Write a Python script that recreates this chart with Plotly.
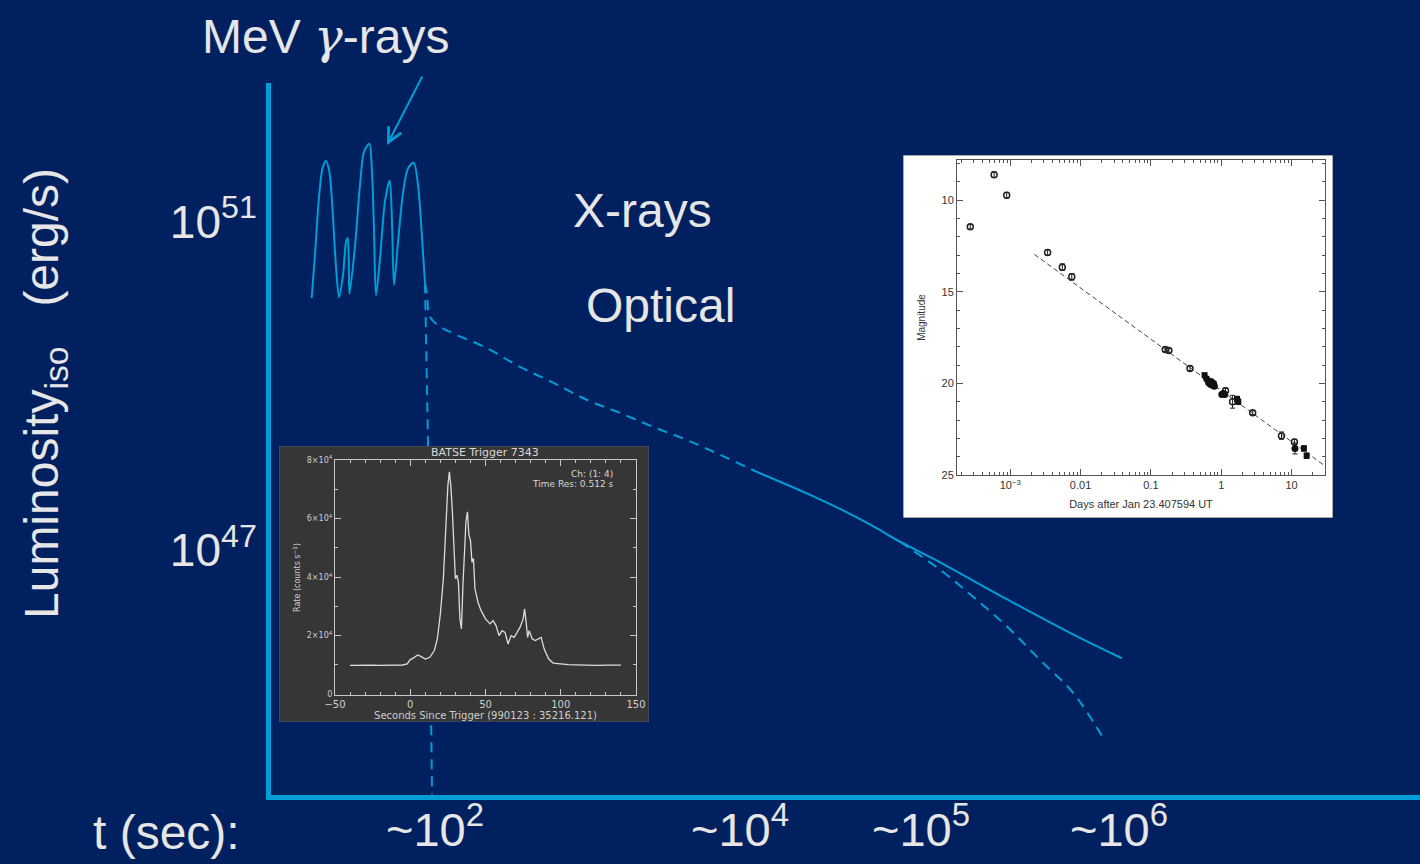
import plotly.graph_objects as go

W, H = 1420, 864
BG = "#002060"
CYAN = "rgb(0,158,214)"
TXT = "#e6e6e6"
FONT = "Liberation Sans"

# ---------------- schematic (main panel) data ----------------
# x: schematic time coordinate (not to scale), y: log10 luminosity
x_ticks = [435, 740, 921, 1119]
x_ticktext = ["~10<sup>2</sup>", "~10<sup>4</sup>", "~10<sup>5</sup>", "~10<sup>6</sup>"]
y_ticks = [47, 51]
y_ticktext = ["10<sup>47</sup>", "10<sup>51</sup>"]

gamma_x = [311.7, 315, 319, 322.5, 326, 329.5, 333, 336, 339, 343, 346, 347.7, 348.8, 349.5,
           355, 360, 364, 369.3, 372, 374, 376, 380, 385, 389.7, 392, 394, 398, 403, 408,
           413.7, 418, 421, 425]
gamma_logL = [50.07, 50.6, 51.3, 51.65, 51.74, 51.6, 51.05, 50.45, 50.08, 50.35, 50.75, 50.80,
              50.5, 50.12, 50.7, 51.45, 51.85, 51.95, 51.6, 50.9, 50.10, 50.55, 51.25, 51.50,
              51.0, 50.23, 50.75, 51.35, 51.65, 51.72, 51.45, 51.0, 50.25]

decay_x = [425, 427, 430, 440, 453, 486.7, 520, 553, 586.7, 620, 653, 686.7, 720, 757]
decay_logL = [50.25, 50.11, 49.84, 49.72, 49.64, 49.46, 49.23, 49.04, 48.83, 48.67, 48.50,
              48.34, 48.16, 47.95]

optical_x = [757, 806.7, 840, 873, 900, 940, 1006.7, 1073, 1121.7]
optical_logL = [47.95, 47.69, 47.50, 47.29, 47.10, 46.85, 46.40, 45.97, 45.68]

break_x = [900, 940, 973, 1006.7, 1040, 1073, 1101.7]
break_logL = [47.10, 46.76, 46.43, 46.07, 45.66, 45.26, 44.74]

drop_x = [425, 428, 432]
drop_logL = [50.25, 48.30, 44.02]

# ---------------- BATSE light curve ----------------
batse_t = [-40, -35, -30, -25, -20, -15, -10, -5, -2, 0, 2, 5, 7, 10, 13, 16, 18, 20, 22, 23.5,
           25, 26, 27, 28, 29, 30, 31, 32, 33, 34, 35, 36, 37, 38, 39, 40, 41, 42, 43, 45, 47,
           50, 53, 55, 57, 59, 61, 63, 65, 67, 69, 71, 73, 75, 76, 77, 78, 79, 81, 83, 85, 87,
           89, 92, 95, 100, 105, 110, 115, 120, 125, 130, 135, 140]
batse_rate = [9800, 9900, 9800, 9900, 9850, 9900, 9850, 9950, 10300, 11800, 12300, 13400,
              12900, 12000, 12600, 14900, 18900, 27400, 39400, 55400, 71400, 76000, 70900,
              62300, 50900, 39400, 40600, 38300, 25700, 22300, 37100, 50900, 58900, 62300,
              54300, 52600, 45100, 46300, 36000, 31400, 28600, 25700, 24000, 25100, 23400,
              20000, 21700, 21100, 17100, 20000, 19400, 21100, 22900, 25700, 29100, 24600,
              19400, 21700, 18900, 18300, 18900, 19400, 15400, 12000, 10600, 10300, 10100,
              10000, 9900, 9900, 9850, 9900, 9850, 9900]
batse_xticks = [-50, 0, 50, 100, 150]
batse_xticktext = ["\u221250", "0", "50", "100", "150"]
batse_yticks = [0, 20000, 40000, 60000, 80000]
batse_yticktext = ["0", "2\u00d710<sup>4</sup>", "4\u00d710<sup>4</sup>",
                   "6\u00d710<sup>4</sup>", "8\u00d710<sup>4</sup>"]

# ---------------- optical afterglow (magnitude vs days) ----------------
open_t = [2.7e-4, 5.9e-4, 8.9e-4, 3.4e-3, 5.5e-3, 7.5e-3, 0.16, 0.18, 0.36, 1.15, 1.45, 2.8, 7.2, 11.0]
open_mag = [11.45, 8.6, 9.72, 12.85, 13.65, 14.18, 18.15, 18.2, 19.18, 20.4, 21.0, 21.6, 22.85, 23.2]
open_err = [0.12, 0.15, 0.15, 0.15, 0.18, 0.18, 0.1, 0.1, 0.12, 0.15, 0.35, 0.1, 0.2, 0.15]

circ_t = [0.62, 0.66, 0.70, 0.72, 0.75, 0.78, 0.80, 1.02, 1.08, 1.12, 11.2]
circ_mag = [19.75, 19.95, 20.05, 19.9, 20.1, 20.0, 20.15, 20.6, 20.55, 20.6, 23.55]
circ_err = [0.1, 0.1, 0.1, 0.1, 0.1, 0.1, 0.1, 0.12, 0.12, 0.12, 0.3]

sq_t = [0.58, 1.68, 1.75, 15.0, 16.4]
sq_mag = [19.55, 20.85, 21.0, 23.55, 23.95]
sq_err = [0.1, 0.15, 0.15, 0.15, 0.15]

fit_t = [2.2e-3, 31.0]
fit_mag = [12.95, 24.55]

mag_xticks = [1e-3, 0.01, 0.1, 1, 10]
mag_xticktext = ["10<sup>\u22123</sup>", "0.01", "0.1", "1", "10"]
mag_yticks = [10, 15, 20, 25]


# ---------------- helpers for layout placement ----------------
def dx(a, b):
    return [a / W, b / W]


def dy(top, bottom):
    return [1 - bottom / H, 1 - top / H]


fig = go.Figure()

# main schematic
fig.add_trace(go.Scatter(x=gamma_x, y=gamma_logL, mode="lines",
                         line=dict(color=CYAN, width=2, shape="spline", smoothing=0.8),
                         xaxis="x", yaxis="y"))
fig.add_trace(go.Scatter(x=decay_x, y=decay_logL, mode="lines",
                         line=dict(color=CYAN, width=2, shape="spline", dash="10px,7px"),
                         xaxis="x", yaxis="y"))
fig.add_trace(go.Scatter(x=optical_x, y=optical_logL, mode="lines",
                         line=dict(color=CYAN, width=2, shape="spline"),
                         xaxis="x", yaxis="y"))
fig.add_trace(go.Scatter(x=break_x, y=break_logL, mode="lines",
                         line=dict(color=CYAN, width=2, shape="spline", dash="10px,7px"),
                         xaxis="x", yaxis="y"))
fig.add_trace(go.Scatter(x=drop_x, y=drop_logL, mode="lines",
                         line=dict(color=CYAN, width=2, dash="10px,7px"),
                         xaxis="x", yaxis="y"))

# BATSE box background (subplot 2) and curve (subplot 3)
fig.add_trace(go.Scatter(x=[0, 1, 1, 0, 0], y=[0, 0, 1, 1, 0], mode="lines", fill="toself",
                         fillcolor="#363636", line=dict(color="#4a5a7a", width=1),
                         xaxis="x2", yaxis="y2"))
fig.add_trace(go.Scatter(x=batse_t, y=batse_rate, mode="lines",
                         line=dict(color="#dcdcdc", width=1.3),
                         xaxis="x3", yaxis="y3"))

# magnitude box background (subplot 4) and data (subplot 5)
fig.add_trace(go.Scatter(x=[0, 1, 1, 0, 0], y=[0, 0, 1, 1, 0], mode="lines", fill="toself",
                         fillcolor="white", line=dict(color="#555555", width=1),
                         xaxis="x4", yaxis="y4"))
fig.add_trace(go.Scatter(x=fit_t, y=fit_mag, mode="lines",
                         line=dict(color="#444444", width=1, dash="5px,3px"),
                         xaxis="x5", yaxis="y5"))
err_kw = dict(type="data", thickness=1, width=2.5, color="#222222")
fig.add_trace(go.Scatter(x=open_t, y=open_mag, mode="markers",
                         marker=dict(symbol="circle-open", size=6, color="#222222",
                                     line=dict(width=1.5)),
                         error_y=dict(array=open_err, **err_kw),
                         xaxis="x5", yaxis="y5"))
fig.add_trace(go.Scatter(x=circ_t, y=circ_mag, mode="markers",
                         marker=dict(symbol="circle", size=7, color="#111111"),
                         error_y=dict(array=circ_err, **err_kw),
                         xaxis="x5", yaxis="y5"))
fig.add_trace(go.Scatter(x=sq_t, y=sq_mag, mode="markers",
                         marker=dict(symbol="square", size=6, color="#111111"),
                         error_y=dict(array=sq_err, **err_kw),
                         xaxis="x5", yaxis="y5"))

minor_log = [m * 10 ** e for e in range(-4, 2) for m in range(2, 10)]

fig.update_layout(
    width=W, height=H, showlegend=False, autosize=False,
    paper_bgcolor=BG, plot_bgcolor="rgba(0,0,0,0)",
    margin=dict(l=0, r=0, t=0, b=0, pad=0, autoexpand=False),
    font=dict(family=FONT, color=TXT),
    hovermode=False,
    xaxis=dict(domain=dx(271, 1420), range=[271, 1420], anchor="y", showgrid=False,
               zeroline=False, showline=True, linewidth=5, linecolor=CYAN, ticks="",
               tickvals=x_ticks, ticktext=x_ticktext, automargin=False,
               ticklabelstandoff=-10,
               tickfont=dict(size=47, color=TXT, family=FONT)),
    yaxis=dict(domain=dy(83, 794.5), range=[44.02, 52.69], anchor="x", showgrid=False,
               zeroline=False, showline=True, linewidth=5, linecolor=CYAN, ticks="",
               tickvals=y_ticks, ticktext=y_ticktext, automargin=False,
               tickfont=dict(size=46, color=TXT, family=FONT)),
    xaxis2=dict(domain=dx(279, 649), anchor="y2", visible=False, range=[0, 1], automargin=False),
    yaxis2=dict(domain=dy(446, 722), anchor="x2", visible=False, range=[0, 1], automargin=False),
    xaxis3=dict(domain=dx(335, 636), anchor="y3", range=[-50, 150], showgrid=False,
                zeroline=False, showline=True, mirror="ticks", linecolor="#c8c8c8",
                linewidth=1.2, ticks="inside", ticklen=6, tickcolor="#c8c8c8", tickwidth=1,
                tickvals=batse_xticks, ticktext=batse_xticktext, automargin=False,
                minor=dict(ticks="inside", ticklen=3, dtick=10, tickcolor="#c8c8c8"),
                tickfont=dict(size=10, color="#cfcfcf", family="DejaVu Sans"),
                title=dict(text="Seconds Since Trigger (990123 : 35216.121)",
                           font=dict(size=10, color="#cfcfcf", family="DejaVu Sans"),
                           standoff=2)),
    yaxis3=dict(domain=dy(460, 695), anchor="x3", range=[-300, 80000], showgrid=False,
                zeroline=False, showline=True, mirror="ticks", linecolor="#c8c8c8",
                linewidth=1.2, ticks="inside", ticklen=6, tickcolor="#c8c8c8", tickwidth=1,
                tickvals=batse_yticks, ticktext=batse_yticktext, automargin=False,
                minor=dict(ticks="inside", ticklen=3, dtick=10000, tickcolor="#c8c8c8"),
                tickfont=dict(size=8, color="#cfcfcf", family="DejaVu Sans"),
                title=dict(text="Rate (counts s<sup>\u22121</sup>)",
                           font=dict(size=8, color="#cfcfcf", family="DejaVu Sans"),
                           standoff=4)),
    xaxis4=dict(domain=dx(903, 1333), anchor="y4", visible=False, range=[0, 1], automargin=False),
    yaxis4=dict(domain=dy(155, 518), anchor="x4", visible=False, range=[0, 1], automargin=False),
    xaxis5=dict(domain=dx(957, 1325), anchor="y5", type="log", range=[-3.757, 1.476],
                showgrid=False, zeroline=False, showline=True, mirror="ticks",
                linecolor="#555555", linewidth=1, ticks="inside", ticklen=6,
                tickcolor="#555555", tickvals=mag_xticks, ticktext=mag_xticktext,
                automargin=False,
                minor=dict(ticks="inside", ticklen=3, tickvals=minor_log, tickcolor="#555555"),
                tickfont=dict(size=11, color="#333333", family=FONT),
                title=dict(text="Days after Jan 23.407594 UT",
                           font=dict(size=11, color="#333333", family=FONT), standoff=10)),
    yaxis5=dict(domain=dy(160, 475), anchor="x5", range=[25, 7.8], showgrid=False,
                zeroline=False, showline=True, mirror="ticks", linecolor="#555555",
                linewidth=1, ticks="inside", ticklen=6, tickcolor="#555555",
                tickvals=mag_yticks, automargin=False,
                minor=dict(ticks="inside", ticklen=3, dtick=1, tickcolor="#555555"),
                tickfont=dict(size=11, color="#333333", family=FONT),
                title=dict(text="Magnitude", font=dict(size=10, color="#333333", family=FONT),
                           standoff=14)),
)


def px(x):
    return x / W


def py(y):
    return 1 - y / H


big = dict(size=48, color=TXT, family=FONT)
ann = [
    dict(x=px(325), y=py(36),
         text="MeV <span style=\"font-family:DejaVu Serif\"><i>\u03b3</i></span>-rays",
         font=big),
    dict(x=px(642), y=py(210), text="X-rays", font=big),
    dict(x=px(660), y=py(305), text="Optical", font=big),
    dict(x=px(166), y=py(832), text="t (sec):", font=big),
    dict(x=px(45), y=py(394),
         text="Luminosity<sub>iso</sub>&nbsp;&nbsp;&nbsp;(erg/s)", textangle=-90,
         font=dict(size=48, color=TXT, family=FONT)),
    dict(x=px(485), y=py(452), text="BATSE Trigger 7343",
         font=dict(size=11, color="#d8d8d8", family="DejaVu Sans")),
    dict(x=px(615), y=py(474), text="Ch: (1: 4)", xanchor="right",
         font=dict(size=9, color="#d8d8d8", family="DejaVu Sans")),
    dict(x=px(615), y=py(484), text="Time Res: 0.512 s", xanchor="right",
         font=dict(size=9, color="#d8d8d8", family="DejaVu Sans")),
]
for a in ann:
    a.setdefault("xref", "paper")
    a.setdefault("yref", "paper")
    a.setdefault("showarrow", False)
    a.setdefault("xanchor", "center")
    a.setdefault("yanchor", "middle")
    fig.add_annotation(**a)

# arrow pointing at the gamma-ray spikes
fig.add_annotation(xref="paper", yref="paper", x=px(387), y=py(145), ax=36, ay=-70,
                   showarrow=True, arrowhead=5, arrowsize=1.4, arrowwidth=2,
                   arrowcolor=CYAN, text="")

fig.write_html(
    "out.html",
    config={"displayModeBar": False, "responsive": False},
    post_script=("document.documentElement.style.margin='0';"
                 "document.body.style.margin='0';"
                 "document.documentElement.style.overflow='hidden';"
                 "document.body.style.overflow='hidden';"),
)
